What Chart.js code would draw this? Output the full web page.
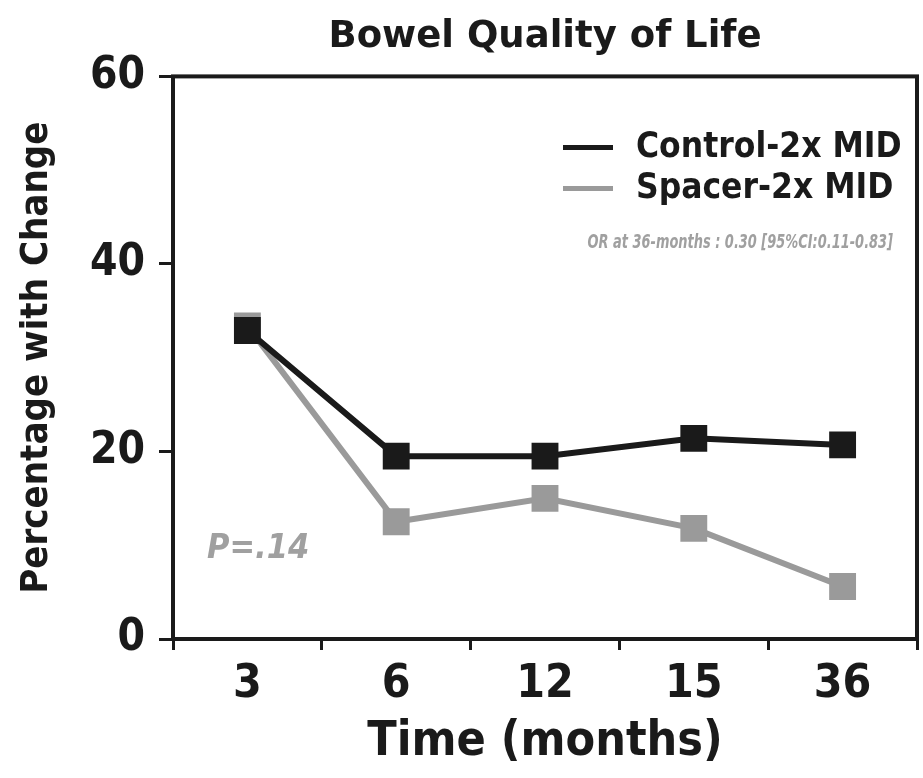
<!DOCTYPE html>
<html>
<head>
<meta charset="utf-8">
<script src="https://cdn.jsdelivr.net/npm/chart.js@4.4.0/dist/chart.umd.min.js"></script>
<style>
html,body{margin:0;padding:0;background:#fff;overflow:hidden;}
#wrap{width:923px;height:778px;position:relative;}
</style>
</head>
<body>
<div id="wrap"><canvas id="c"></canvas></div>
<script>
const categories = ['3', '6', '12', '15', '36'];
const controlValues = [32.9, 19.5, 19.5, 21.4, 20.7];
const spacerValues = [33.4, 12.5, 15.0, 11.8, 5.6];
const yTicks = [0, 20, 40, 60];
const seriesNames = ['Control-2x MID', 'Spacer-2x MID'];
const chartTitle = 'Bowel Quality of Life';
const xTitle = 'Time (months)';
const yTitle = 'Percentage with Change';
const orNote = 'OR at 36-months : 0.30 [95%CI:0.11-0.83]';
const pNote = 'P=.14';

const FONT = "'DejaVu Sans Condensed', 'Liberation Sans Narrow', sans-serif";
const WIDE = "'DejaVu Sans', sans-serif";
const BLACK = '#1a1a1a';
const GREY = '#9a9a9a';

const framePlugin = {
  id: 'frame',
  afterDatasetsDraw(chart) {
    const {ctx, chartArea: a} = chart;
    ctx.save();
    ctx.strokeStyle = BLACK;
    ctx.lineWidth = 4;
    ctx.strokeRect(a.left, a.top, a.right - a.left, a.bottom - a.top);
    ctx.restore();
  },
  afterDraw(chart) {
    const {ctx, chartArea: a} = chart;
    ctx.save();
    const ds = chart.data.datasets;
    const rows = [a.top + 71, a.top + 112];
    ds.forEach((d, i) => {
      const y = rows[i];
      ctx.strokeStyle = d.borderColor;
      ctx.lineWidth = 5;
      ctx.beginPath();
      ctx.moveTo(a.left + 390, y);
      ctx.lineTo(a.left + 440, y);
      ctx.stroke();
      ctx.fillStyle = BLACK;
      ctx.font = 'bold 35px ' + FONT;
      ctx.textAlign = 'left';
      ctx.textBaseline = 'middle';
      ctx.fillText(d.label, a.left + 463, y + 1);
    });
    // OR note, horizontally condensed
    ctx.save();
    ctx.fillStyle = '#a0a0a0';
    ctx.font = 'italic bold 20px ' + FONT;
    ctx.textAlign = 'right';
    ctx.textBaseline = 'middle';
    ctx.translate(a.right - 24, a.top + 166);
    ctx.scale(0.72, 1);
    ctx.fillText(orNote, 0, 0);
    ctx.restore();
    ctx.fillStyle = '#a0a0a0';
    ctx.font = 'italic bold 34px ' + FONT;
    ctx.textAlign = 'left';
    ctx.textBaseline = 'middle';
    ctx.fillText(pNote, a.left + 34, a.top + 473);
    ctx.restore();
  }
};

new Chart(document.getElementById('c'), {
  type: 'line',
  data: {
    labels: categories,
    datasets: [
      {
        label: seriesNames[0],
        data: controlValues,
        borderColor: BLACK,
        backgroundColor: BLACK,
        borderWidth: 6,
        pointStyle: 'rect',
        pointRadius: 19,
        pointHoverRadius: 19,
        pointBorderWidth: 0,
        tension: 0
      },
      {
        label: seriesNames[1],
        data: spacerValues,
        borderColor: GREY,
        backgroundColor: GREY,
        borderWidth: 6,
        pointStyle: 'rect',
        pointRadius: 19,
        pointHoverRadius: 19,
        pointBorderWidth: 0,
        tension: 0
      }
    ]
  },
  options: {
    responsive: true,
    maintainAspectRatio: false,
    animation: false,
    layout: { autoPadding: false, padding: { left: 0, right: 6, top: 0, bottom: 0 } },
    plugins: {
      legend: { display: false },
      tooltip: { enabled: false },
      title: {
        display: true,
        fullSize: false,
        text: chartTitle,
        color: BLACK,
        font: { family: WIDE, size: 37, weight: 'bold', lineHeight: 1.2 },
        padding: { top: 15, bottom: 17 }
      }
    },
    scales: {
      x: {
        type: 'category',
        offset: true,
        afterFit(s) { s.height = 139; s.paddingLeft = 0; s.paddingRight = 0; },
        grid: {
          offset: true,
          drawOnChartArea: false,
          drawTicks: true,
          tickLength: 11,
          tickWidth: 3,
          tickColor: BLACK
        },
        border: { display: false },
        ticks: {
          color: BLACK,
          padding: 7,
          font: { family: FONT, size: 46, weight: 'bold', lineHeight: 1.2 }
        },
        title: {
          display: true,
          text: xTitle,
          color: BLACK,
          font: { family: FONT, size: 48, weight: 'bold', lineHeight: 1.2 },
          padding: { top: 0, bottom: 7 }
        }
      },
      y: {
        min: 0,
        max: 60,
        afterFit(s) { s.width = 173; },
        afterBuildTicks(s) { s.ticks = yTicks.map(v => ({ value: v })); },
        grid: {
          drawOnChartArea: false,
          drawTicks: true,
          tickLength: 14,
          tickWidth: 3,
          tickColor: BLACK
        },
        border: { display: false },
        ticks: {
          color: BLACK,
          padding: 14,
          font: { family: FONT, size: 44, weight: 'bold', lineHeight: 1.2 }
        },
        title: {
          display: true,
          text: yTitle,
          color: BLACK,
          font: { family: FONT, size: 38, weight: 'bold', lineHeight: 1.2 },
          padding: { top: 14, bottom: 0 }
        }
      }
    }
  },
  plugins: [framePlugin]
});
</script>
</body>
</html>
